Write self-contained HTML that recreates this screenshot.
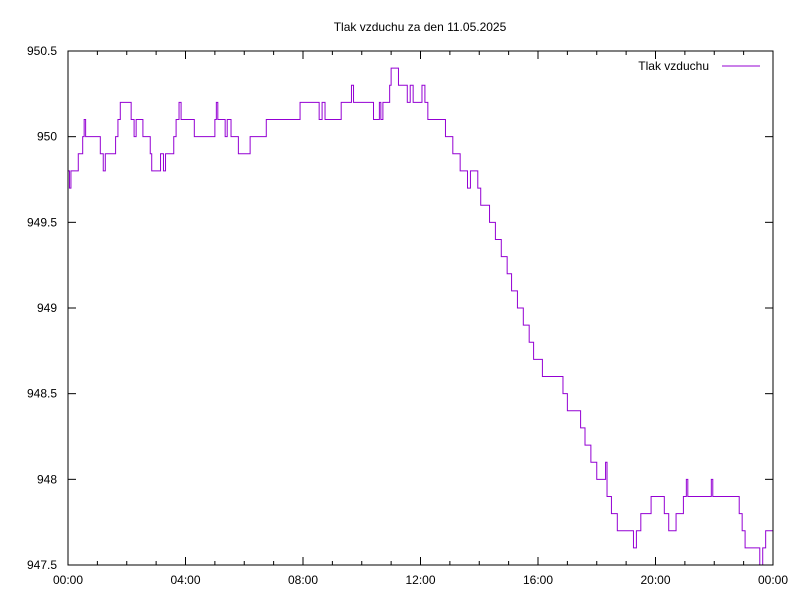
<!DOCTYPE html>
<html><head><meta charset="utf-8"><style>
body{margin:0;background:#fff}
svg text{font-family:"Liberation Sans",sans-serif;font-size:12px;fill:#000}
</style></head><body>
<svg id="chart" width="800" height="600">
<rect width="800" height="600" fill="#fff"/>
<text x="420" y="31" text-anchor="middle">Tlak vzduchu za den 11.05.2025</text>
<g id="axes"></g>
<path id="series" fill="none" stroke="#9400d3" stroke-width="1"/>
<rect x="68" y="51" width="705" height="514" fill="none" stroke="#000"/>
<text x="709" y="70" text-anchor="end">Tlak vzduchu</text>
<line x1="722" y1="66" x2="760" y2="66" stroke="#9400d3"/>
</svg>
<script>
const hours=[0,0.05,0.1,0.35,0.5,0.55,0.6,1.1,1.2,1.27,1.3,1.62,1.7,1.78,2.15,2.25,2.32,2.55,2.62,2.8,2.85,3.15,3.25,3.32,3.6,3.68,3.78,3.85,3.92,4.3,5.0,5.05,5.1,5.35,5.42,5.55,5.65,5.8,6.2,6.75,7.9,8.55,8.65,8.75,9.3,9.65,9.72,9.78,10.4,10.6,10.65,10.72,10.8,10.95,11.0,11.25,11.55,11.65,11.75,12.05,12.15,12.25,12.85,12.95,13.1,13.35,13.6,13.7,13.95,14.05,14.15,14.35,14.55,14.75,14.95,15.1,15.3,15.5,15.7,15.85,16.0,16.15,16.3,16.85,17.0,17.1,17.45,17.6,17.8,18.0,18.3,18.35,18.5,18.7,18.9,19.25,19.35,19.5,19.85,20.3,20.45,20.7,20.95,21.05,21.1,21.35,21.9,21.95,22.85,22.95,23.05,23.45,23.55,23.65,23.75,24];
const values=[949.8,949.7,949.8,949.9,950.0,950.1,950.0,949.9,949.8,949.9,949.9,950.0,950.1,950.2,950.1,950.0,950.1,950.0,950.0,949.9,949.8,949.9,949.8,949.9,950.0,950.1,950.2,950.1,950.1,950.0,950.1,950.2,950.1,950.0,950.1,950.0,950.0,949.9,950.0,950.1,950.2,950.1,950.2,950.1,950.2,950.3,950.2,950.2,950.1,950.2,950.1,950.2,950.2,950.3,950.4,950.3,950.2,950.3,950.2,950.3,950.2,950.1,950.0,950.0,949.9,949.8,949.7,949.8,949.7,949.6,949.6,949.5,949.4,949.3,949.2,949.1,949.0,948.9,948.8,948.7,948.7,948.6,948.6,948.5,948.4,948.4,948.3,948.2,948.1,948.0,948.1,947.9,947.8,947.7,947.7,947.6,947.7,947.8,947.9,947.8,947.7,947.8,947.9,948.0,947.9,947.9,948.0,947.9,947.8,947.7,947.6,947.6,947.5,947.6,947.7,947.7];
const yTicks=[947.5,948,948.5,949,949.5,950,950.5];
const xTicks=[0,4,8,12,16,20,24];
const xTickLabels=["00:00","04:00","08:00","12:00","16:00","20:00","00:00"];
const L=68,R=773,T=51,B=565,ymin=947.5,ymax=950.5;
const xs=h=>L+(R-L)*h/24, ys=v=>B-(B-T)*(v-ymin)/(ymax-ymin);
const ns="http://www.w3.org/2000/svg",ax=document.getElementById('axes');
function mk(t,a){const e=document.createElementNS(ns,t);for(const k in a)e.setAttribute(k,a[k]);ax.appendChild(e);return e;}
yTicks.forEach(v=>{const y=ys(v);
const a=mk('line',{x1:L,x2:L+8,y1:y,y2:y,stroke:'#000'});


const b=mk('line',{x1:R-8,x2:R,y1:y,y2:y,stroke:'#000'});


const t=mk('text',{x:L-11,y:y+4,'text-anchor':'end'});t.textContent=String(v);

});
for(let h=0;h<=24;h++){const x=xs(h),len=h%4===0?8:4;
const a=mk('line',{x1:x,x2:x,y1:B,y2:B-len,stroke:'#000'});


const b=mk('line',{x1:x,x2:x,y1:T,y2:T+len,stroke:'#000'});

}
xTicks.forEach((h,i)=>{const t=mk('text',{x:xs(h),y:B+19,'text-anchor':'middle'});t.textContent=xTickLabels[i];

});
let d='M'+xs(hours[0])+','+ys(values[0]);
for(let i=1;i<hours.length;i++){d+=' H'+xs(hours[i])+' V'+ys(values[i]);}
document.getElementById('series').setAttribute('d',d);
</script>
</body></html>
